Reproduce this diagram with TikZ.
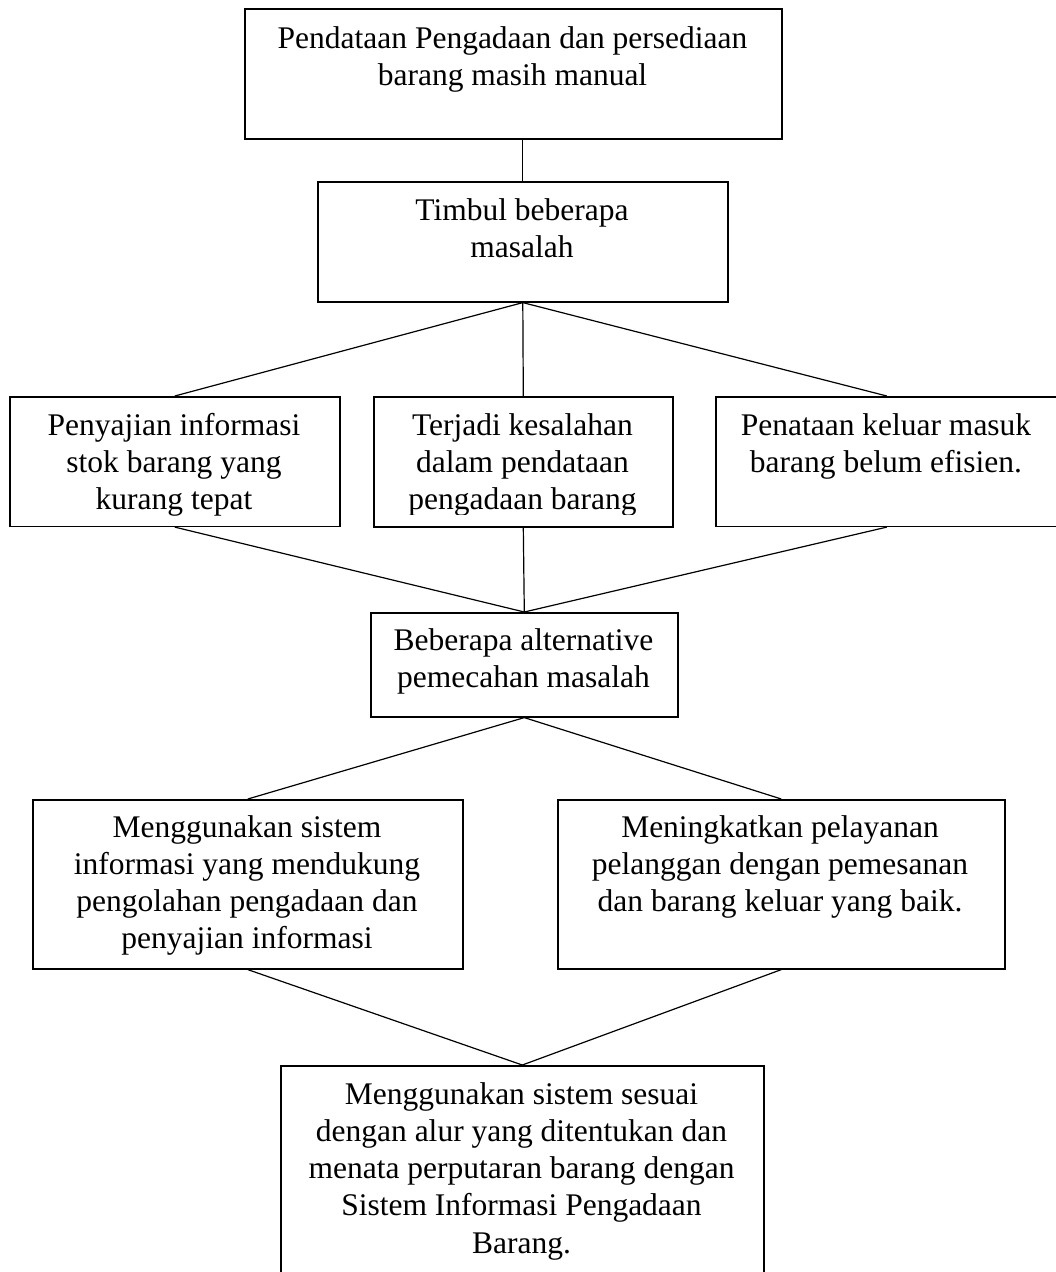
\documentclass[tikz,border=0pt]{standalone}
\usepackage{fontspec}
\setmainfont{Liberation Serif}
\usetikzlibrary{calc}
\begin{document}
\begin{tikzpicture}[x=1pt,y=-1pt,
  box/.style={draw,line width=1.6pt,inner sep=0pt,anchor=north west},
  txt/.style={anchor=north,inner sep=0pt,align=center,font=\fontsize{31.5}{37.3}\selectfont},
  link/.style={line width=1.2pt}]
\clip (0,0) rectangle (1056,1272);
% boxes
\node[box,minimum width=537pt,minimum height=130pt] (A) at (244,8) {};
\node[box,minimum width=410pt,minimum height=120pt] (B) at (317,181) {};
\node[box,minimum width=330pt,minimum height=129.5pt] (C1) at (9,396) {};
\node[box,minimum width=299pt,minimum height=130pt] (C2) at (373,396) {};
\node[box,minimum width=342pt,minimum height=129.5pt] (C3) at (715,396) {};
\node[box,minimum width=307pt,minimum height=104pt] (D) at (370,612) {};
\node[box,minimum width=430pt,minimum height=169pt] (E1) at (32,799) {};
\node[box,minimum width=447pt,minimum height=169pt] (E2) at (557,799) {};
\node[box,minimum width=483pt,minimum height=230pt] (F) at (280,1065) {};
% texts
\node[txt] (tA) at (512.5,21.75) {\strut Pendataan Pengadaan dan persediaan\\barang masih manual};
\node[txt] (tB) at (522,193.75) {\strut Timbul beberapa\\masalah};
\node[txt] (tC1) at (174,408.75) {\strut Penyajian informasi\\stok barang yang\\kurang tepat};
\begin{scope}
  \clip (373,396) rectangle (672,514);
  \node[txt] (tC2) at (522.5,408.75) {\strut Terjadi kesalahan\\dalam pendataan\\pengadaan barang};
\end{scope}
\node[txt] (tC3) at (886,408.75) {\strut Penataan keluar masuk\\barang belum efisien.};
\node[txt] (tD) at (523.5,623.75) {\strut Beberapa alternative\\pemecahan masalah};
\node[txt] (tE1) at (247,810.75) {\strut Menggunakan sistem\\informasi yang mendukung\\pengolahan pengadaan dan\\penyajian informasi};
\node[txt] (tE2) at (780,810.75) {\strut Meningkatkan pelayanan\\pelanggan dengan pemesanan\\dan barang keluar yang baik.};
\node[txt] (tF) at (521.5,1077.75) {\strut Menggunakan sistem sesuai\\dengan alur yang ditentukan dan\\menata perputaran barang dengan\\Sistem Informasi Pengadaan\\Barang.};
% connectors
\draw[link] (A.south -| B.north) -- (B.north);
\draw[link] (B.south) -- (C1.north);
\draw[link] (B.south) -- (C2.north);
\draw[link] (B.south) -- (C3.north);
\draw[link] (C1.south) -- (D.north);
\draw[link] (C2.south) -- (D.north);
\draw[link] (C3.south) -- (D.north);
\draw[link] (D.south) -- (E1.north);
\draw[link] (D.south) -- (E2.north);
\draw[link] (E1.south) -- (F.north);
\draw[link] (E2.south) -- (F.north);
\end{tikzpicture}
\end{document}
